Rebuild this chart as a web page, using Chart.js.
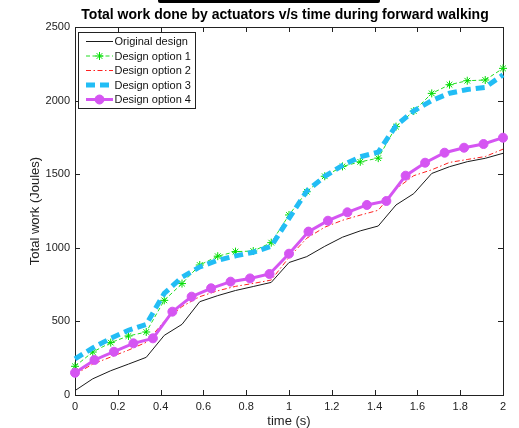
<!DOCTYPE html>
<html>
<head>
<meta charset="utf-8">
<script src="https://cdn.jsdelivr.net/npm/chart.js@4"></script>
<style>
  body { margin: 0; background: #fff; }
  #wrap { width: 519px; height: 428px; }
</style>
</head>
<body>
<div id="wrap"><canvas id="workChart" width="519" height="428"></canvas></div>
<script>
// time samples (s)
const times12 = [0, 0.083, 0.167, 0.25, 0.333, 0.417, 0.5, 0.583, 0.667, 0.75, 0.833, 0.917, 1,
  1.083, 1.167, 1.25, 1.333, 1.417, 1.5, 1.583, 1.667, 1.75, 1.833, 1.917, 2];
const times11 = [0, 0.091, 0.182, 0.273, 0.364, 0.455, 0.545, 0.636, 0.727, 0.818, 0.909, 1,
  1.091, 1.182, 1.273, 1.364, 1.455, 1.545, 1.636, 1.727, 1.818, 1.909, 2];

// total work (Joules)
const originalDesign = [30, 110, 165, 210, 256, 405, 480, 634, 675, 710, 737, 765, 900,
  940, 1010, 1072, 1115, 1148, 1291, 1368, 1505, 1551, 1585, 1608, 1642];
const designOption1 = [195, 292, 356, 401, 428, 643, 757, 883, 943, 974, 978, 1035, 1223,
  1381, 1486, 1553, 1584, 1609, 1823, 1929, 2049, 2108, 2135, 2140, 2219];
const designOption2 = [140, 210, 258, 305, 358, 500, 601, 668, 708, 738, 758, 781, 935,
  1065, 1140, 1187, 1222, 1255, 1400, 1490, 1530, 1580, 1600, 1620, 1670];
const designOption3 = [245, 320, 385, 440, 480, 690, 800, 870, 915, 945, 970, 1010, 1200,
  1385, 1485, 1560, 1618, 1650, 1830, 1930, 2000, 2050, 2075, 2090, 2175];
const designOption4 = [151, 238, 294, 351, 385, 566, 668, 725, 770, 792, 822, 960,
  1110, 1184, 1241, 1291, 1318, 1490, 1578, 1646, 1680, 1705, 1748];

const xTicks = [0, 0.2, 0.4, 0.6, 0.8, 1, 1.2, 1.4, 1.6, 1.8, 2];
const yTicks = [0, 500, 1000, 1500, 2000, 2500];

const chartTitle = "Total work done by actuators v/s time during forward walking";
const xTitle = "time (s)";
const yTitle = "Total work (Joules)";

const font = "'Liberation Sans', Arial, sans-serif";

function pts(xs, ys) {
  return ys.map((y, i) => ({ x: xs[i], y: y }));
}

// box, inner ticks, titles
const axesBox = {
  id: "axesBox",
  beforeDatasetsDraw(chart) {
    const { ctx, chartArea: a, scales } = chart;
    ctx.save();
    ctx.strokeStyle = "#222";
    ctx.lineWidth = 1;
    ctx.strokeRect(a.left + 0.5, a.top + 0.5, a.right - a.left, a.bottom - a.top);
    ctx.beginPath();
    xTicks.forEach(v => {
      const x = Math.round(scales.x.getPixelForValue(v)) + 0.5;
      ctx.moveTo(x, a.bottom); ctx.lineTo(x, a.bottom - 5);
      ctx.moveTo(x, a.top); ctx.lineTo(x, a.top + 5);
    });
    yTicks.forEach(v => {
      const y = Math.round(scales.y.getPixelForValue(v)) + 0.5;
      ctx.moveTo(a.left, y); ctx.lineTo(a.left + 5, y);
      ctx.moveTo(a.right, y); ctx.lineTo(a.right - 5, y);
    });
    ctx.stroke();
    ctx.restore();
  },
  afterDraw(chart) {
    const { ctx, chartArea: a } = chart;
    ctx.save();
    // cropped bar at top edge
    ctx.fillStyle = "#000";
    ctx.beginPath();
    ctx.roundRect(158, -2, 222, 5, 2);
    ctx.fill();

    ctx.fillStyle = "#000";
    ctx.textAlign = "center";
    ctx.textBaseline = "middle";
    ctx.font = "bold 14px " + font;
    ctx.fillText(chartTitle, (a.left + a.right) / 2 - 4, 15);

    ctx.fillStyle = "#222";
    ctx.font = "13px " + font;
    ctx.fillText(xTitle, (a.left + a.right) / 2, 421);
    ctx.translate(35, (a.top + a.bottom) / 2);
    ctx.rotate(-Math.PI / 2);
    ctx.fillText(yTitle, 0, 0);
    ctx.restore();
  }
};

// MATLAB style legend with line samples
const lineLegend = {
  id: "lineLegend",
  afterDatasetsDraw(chart) {
    const { ctx } = chart;
    const box = { x: 78, y: 32, w: 117, h: 76 };
    ctx.save();
    ctx.fillStyle = "#fff";
    ctx.fillRect(box.x, box.y, box.w, box.h);
    ctx.strokeStyle = "#222";
    ctx.lineWidth = 1;
    ctx.strokeRect(box.x + 0.5, box.y + 0.5, box.w, box.h);
    chart.data.datasets.forEach((ds, i) => {
      const y = 41.5 + i * 14.5;
      ctx.save();
      ctx.strokeStyle = ds.borderColor;
      ctx.lineWidth = ds.borderWidth;
      ctx.setLineDash(ds.borderDash || []);
      ctx.beginPath();
      ctx.moveTo(86, y);
      ctx.lineTo(113, y);
      ctx.stroke();
      ctx.setLineDash([]);
      if (ds.pointRadius > 0) {
        ctx.fillStyle = ds.pointBackgroundColor;
        ctx.strokeStyle = ds.pointBorderColor;
        ctx.lineWidth = ds.pointBorderWidth;
        Chart.helpers.drawPoint(ctx, {
          pointStyle: ds.pointStyle, radius: ds.pointRadius,
          borderWidth: ds.pointBorderWidth, rotation: 0
        }, 99.5, y);
      }
      ctx.restore();
      ctx.fillStyle = "#111";
      ctx.font = "11px " + font;
      ctx.textBaseline = "middle";
      ctx.fillText(ds.label, 114.5, y + 0.5);
    });
    ctx.restore();
  }
};

new Chart(document.getElementById("workChart"), {
  type: "line",
  data: {
    datasets: [
      {
        label: "Original design",
        data: pts(times12, originalDesign),
        borderColor: "#1a1a1a",
        borderWidth: 1,
        pointRadius: 0,
        order: 4
      },
      {
        label: "Design option 1",
        data: pts(times12, designOption1),
        borderColor: "#22dd22",
        borderWidth: 1,
        borderDash: [4, 2.5],
        pointStyle: "star",
        pointRadius: 4,
        pointBorderWidth: 1,
        pointBorderColor: "#00dd00",
        pointBackgroundColor: "#00dd00",
        order: 3
      },
      {
        label: "Design option 2",
        data: pts(times12, designOption2),
        borderColor: "#ff2020",
        borderWidth: 1,
        borderDash: [5, 2.5, 1.5, 2.5],
        pointRadius: 0,
        order: 2
      },
      {
        label: "Design option 3",
        data: pts(times12, designOption3),
        borderColor: "#22bdf5",
        borderWidth: 5,
        borderDash: [9, 5],
        borderCapStyle: "butt",
        pointRadius: 0,
        order: 1
      },
      {
        label: "Design option 4",
        data: pts(times11, designOption4),
        borderColor: "#d555f2",
        borderWidth: 3,
        pointStyle: "circle",
        pointRadius: 4.5,
        pointBorderWidth: 1,
        pointBorderColor: "#d555f2",
        pointBackgroundColor: "#d555f2",
        order: 0
      }
    ]
  },
  options: {
    responsive: false,
    animation: false,
    parsing: true,
    clip: 8,
    layout: { padding: { top: 27, right: 16, left: 0, bottom: 0 } },
    plugins: {
      legend: { display: false },
      title: { display: false },
      tooltip: { enabled: false }
    },
    scales: {
      x: {
        type: "linear",
        min: 0,
        max: 2,
        afterFit(s) { s.height = 33; },
        afterBuildTicks(s) { s.ticks = xTicks.map(v => ({ value: v })); },
        grid: { display: false, drawTicks: false },
        border: { display: false },
        ticks: {
          autoSkip: false,
          maxRotation: 0,
          padding: 5,
          color: "#222",
          font: { family: font, size: 11 },
          callback: v => String(+v.toFixed(1))
        }
      },
      y: {
        type: "linear",
        min: 0,
        max: 2500,
        afterFit(s) { s.width = 75; },
        afterBuildTicks(s) { s.ticks = yTicks.map(v => ({ value: v })); },
        grid: { display: false, drawTicks: false },
        border: { display: false },
        ticks: {
          padding: 5,
          color: "#222",
          font: { family: font, size: 11 },
          callback: v => String(v)
        }
      }
    }
  },
  plugins: [axesBox, lineLegend]
});
</script>
</body>
</html>
